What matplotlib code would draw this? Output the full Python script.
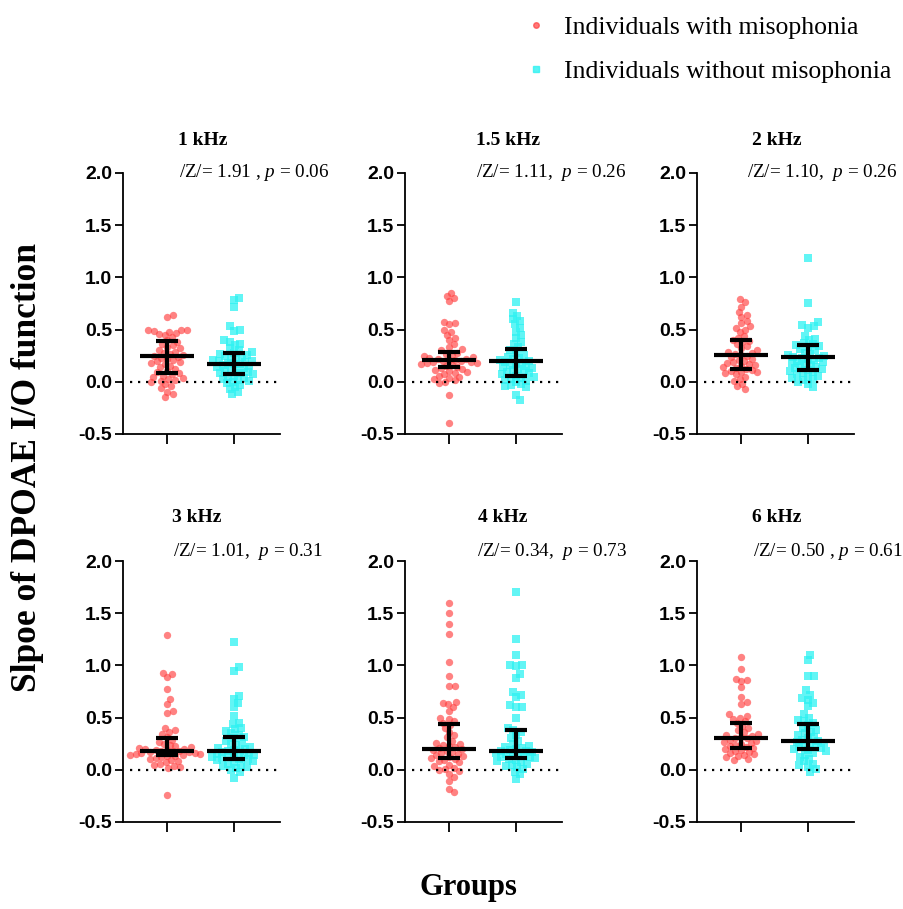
import numpy as np
import matplotlib
matplotlib.use('Agg')
import matplotlib.pyplot as plt
from matplotlib.lines import Line2D

plt.rcParams['mathtext.fontset'] = 'custom'
plt.rcParams['mathtext.rm'] = 'Liberation Serif'
plt.rcParams['mathtext.it'] = 'Liberation Serif:italic'

# ---- data ----
freqs = ['1 kHz', '1.5 kHz', '2 kHz', '3 kHz', '4 kHz', '6 kHz']
stats = ['/Z/= 1.91 , $p$ = 0.06', '/Z/= 1.11,  $p$ = 0.26', '/Z/= 1.10,  $p$ = 0.26',
         '/Z/= 1.01,  $p$ = 0.31', '/Z/= 0.34,  $p$ = 0.73', '/Z/= 0.50 , $p$ = 0.61']
groups = ['Individuals with misophonia', 'Individuals without misophonia']

miso_1k = [0.64, 0.62, 0.50, 0.50, 0.50, 0.49, 0.48, 0.47, 0.46, 0.45, 0.43, 0.40, 0.38, 0.36,
           0.35, 0.33, 0.32, 0.30, 0.29, 0.28, 0.27, 0.26, 0.25, 0.24, 0.23, 0.22, 0.21, 0.20,
           0.19, 0.18, 0.17, 0.15, 0.14, 0.12, 0.10, 0.09, 0.08, 0.07, 0.06, 0.05, 0.04, 0.03,
           0.02, 0.01, 0.00, -0.02, -0.04, -0.06, -0.10, -0.12, -0.15]
ctrl_1k = [0.80, 0.78, 0.72, 0.53, 0.50, 0.49, 0.40, 0.38, 0.36, 0.35, 0.32, 0.30, 0.29, 0.28,
           0.27, 0.26, 0.25, 0.24, 0.23, 0.22, 0.21, 0.20, 0.20, 0.19, 0.18, 0.17, 0.17, 0.16,
           0.15, 0.14, 0.13, 0.12, 0.11, 0.10, 0.09, 0.08, 0.08, 0.07, 0.06, 0.05, 0.04, 0.03,
           0.02, 0.01, 0.00, -0.01, -0.03, -0.05, -0.07, -0.10, -0.12]
miso_15k = [0.85, 0.82, 0.80, 0.77, 0.57, 0.56, 0.55, 0.50, 0.48, 0.45, 0.42, 0.40, 0.36, 0.33,
            0.31, 0.30, 0.28, 0.27, 0.26, 0.25, 0.24, 0.23, 0.22, 0.22, 0.21, 0.21, 0.20, 0.20,
            0.19, 0.19, 0.18, 0.18, 0.17, 0.16, 0.15, 0.14, 0.13, 0.12, 0.11, 0.10, 0.09, 0.08,
            0.07, 0.06, 0.05, 0.04, 0.03, 0.02, 0.00, -0.01, -0.13, -0.39]
ctrl_15k = [0.76, 0.66, 0.63, 0.60, 0.58, 0.55, 0.52, 0.48, 0.45, 0.42, 0.38, 0.36, 0.33, 0.30,
            0.28, 0.26, 0.24, 0.23, 0.22, 0.21, 0.20, 0.19, 0.18, 0.17, 0.16, 0.15, 0.14, 0.13,
            0.12, 0.11, 0.10, 0.09, 0.08, 0.07, 0.06, 0.05, 0.04, 0.03, 0.02, 0.01, 0.00, -0.02,
            -0.03, -0.04, -0.05, -0.13, -0.17]
miso_2k = [0.79, 0.76, 0.72, 0.67, 0.64, 0.62, 0.58, 0.56, 0.53, 0.52, 0.50, 0.48, 0.44, 0.42,
           0.40, 0.39, 0.38, 0.36, 0.34, 0.32, 0.30, 0.29, 0.28, 0.27, 0.26, 0.25, 0.24, 0.22,
           0.21, 0.20, 0.19, 0.18, 0.17, 0.16, 0.15, 0.14, 0.13, 0.12, 0.11, 0.10, 0.09, 0.09,
           0.08, 0.07, 0.05, 0.03, 0.01, -0.02, -0.04, -0.07]
ctrl_2k = [1.19, 0.75, 0.57, 0.54, 0.53, 0.52, 0.44, 0.41, 0.40, 0.37, 0.36, 0.35, 0.34, 0.33,
           0.31, 0.30, 0.28, 0.27, 0.26, 0.25, 0.24, 0.23, 0.23, 0.22, 0.21, 0.20, 0.19, 0.18,
           0.17, 0.16, 0.15, 0.14, 0.13, 0.12, 0.11, 0.10, 0.09, 0.08, 0.07, 0.06, 0.05, 0.04,
           0.03, 0.02, 0.00, -0.02, -0.05]
miso_3k = [1.29, 0.93, 0.92, 0.89, 0.77, 0.68, 0.63, 0.56, 0.54, 0.40, 0.38, 0.36, 0.34, 0.31,
           0.29, 0.27, 0.25, 0.24, 0.23, 0.22, 0.21, 0.20, 0.20, 0.19, 0.19, 0.18, 0.18, 0.18,
           0.17, 0.17, 0.16, 0.16, 0.15, 0.15, 0.14, 0.14, 0.13, 0.13, 0.12, 0.11, 0.10, 0.09,
           0.08, 0.07, 0.06, 0.05, 0.04, 0.03, 0.02, -0.24]
ctrl_3k = [1.22, 0.98, 0.95, 0.71, 0.68, 0.64, 0.60, 0.52, 0.45, 0.44, 0.40, 0.39, 0.37, 0.35,
           0.33, 0.31, 0.30, 0.28, 0.26, 0.25, 0.24, 0.22, 0.21, 0.20, 0.19, 0.18, 0.18, 0.17,
           0.16, 0.15, 0.14, 0.14, 0.13, 0.12, 0.12, 0.11, 0.10, 0.10, 0.09, 0.08, 0.07, 0.06,
           0.05, 0.04, 0.03, 0.02, 0.00, -0.02, -0.08]
miso_4k = [1.60, 1.50, 1.40, 1.30, 1.03, 0.90, 0.80, 0.80, 0.65, 0.64, 0.63, 0.60, 0.56, 0.50,
           0.49, 0.47, 0.45, 0.43, 0.40, 0.36, 0.33, 0.31, 0.28, 0.26, 0.25, 0.24, 0.23, 0.22,
           0.21, 0.20, 0.19, 0.18, 0.17, 0.16, 0.15, 0.14, 0.13, 0.12, 0.11, 0.10, 0.09, 0.08,
           0.07, 0.05, 0.04, 0.02, 0.01, 0.00, -0.01, -0.04, -0.07, -0.11, -0.18, -0.21]
ctrl_4k = [1.70, 1.25, 1.10, 1.00, 1.00, 0.99, 0.92, 0.88, 0.75, 0.72, 0.70, 0.62, 0.60, 0.60,
           0.50, 0.40, 0.38, 0.36, 0.33, 0.30, 0.28, 0.25, 0.23, 0.22, 0.21, 0.20, 0.19, 0.18,
           0.18, 0.17, 0.16, 0.15, 0.15, 0.14, 0.13, 0.12, 0.12, 0.11, 0.10, 0.09, 0.08, 0.07,
           0.06, 0.05, 0.04, 0.03, 0.01, -0.02, -0.04, -0.09]
miso_6k = [1.08, 0.97, 0.87, 0.86, 0.85, 0.79, 0.70, 0.65, 0.63, 0.53, 0.52, 0.50, 0.49, 0.47,
           0.45, 0.42, 0.40, 0.38, 0.36, 0.34, 0.33, 0.32, 0.31, 0.30, 0.30, 0.29, 0.28, 0.27,
           0.26, 0.25, 0.24, 0.23, 0.22, 0.21, 0.20, 0.19, 0.18, 0.17, 0.16, 0.15, 0.14, 0.13,
           0.12, 0.10, 0.09]
ctrl_6k = [1.10, 1.05, 0.90, 0.90, 0.76, 0.72, 0.69, 0.67, 0.64, 0.61, 0.53, 0.50, 0.48, 0.47,
           0.45, 0.43, 0.40, 0.38, 0.36, 0.35, 0.33, 0.31, 0.30, 0.29, 0.28, 0.27, 0.26, 0.25,
           0.24, 0.23, 0.22, 0.21, 0.20, 0.19, 0.18, 0.16, 0.14, 0.12, 0.10, 0.08, 0.06, 0.05,
           0.03, 0.01, -0.02]

miso = [miso_1k, miso_15k, miso_2k, miso_3k, miso_4k, miso_6k]
ctrl = [ctrl_1k, ctrl_15k, ctrl_2k, ctrl_3k, ctrl_4k, ctrl_6k]

# median and interquartile range per panel, as drawn
miso_med = [0.25, 0.21, 0.26, 0.18, 0.20, 0.30]
miso_q1 = [0.08, 0.14, 0.12, 0.145, 0.11, 0.21]
miso_q3 = [0.39, 0.29, 0.405, 0.30, 0.44, 0.45]
ctrl_med = [0.17, 0.20, 0.235, 0.18, 0.18, 0.28]
ctrl_q1 = [0.075, 0.06, 0.11, 0.105, 0.11, 0.20]
ctrl_q3 = [0.275, 0.31, 0.35, 0.315, 0.38, 0.44]

# ---- layout ----
W, H = 904, 909
lefts = [123, 405, 697]
tops = [173, 561]
ax_w, ax_h = 157, 261
title_x = [0.51, 0.656, 0.51, 0.47, 0.62, 0.51]
stat_x = [0.357, 0.452, 0.318, 0.318, 0.459, 0.357]

red = '#FF4040'
cyan = '#2EF2F2'
serif = 'Liberation Serif'
sans = 'Liberation Sans'


def swarm(ax, values, center, d=5.8):
    # simple beeswarm in pixel space
    tr = ax.transData
    ys = np.array([tr.transform((0, v))[1] for v in values])
    order = np.argsort(np.abs(ys - np.median(ys)))
    placed = []
    xs = np.zeros(len(values))
    for i in order:
        y = ys[i]
        cands = [0.0]
        for (px, py) in placed:
            dy = y - py
            if abs(dy) < d:
                dx = np.sqrt(d * d - dy * dy)
                cands += [px + dx, px - dx]
        cands = sorted(cands, key=abs)
        for c in cands:
            ok = True
            for (px, py) in placed:
                if (c - px) ** 2 + (y - py) ** 2 < d * d - 1e-6:
                    ok = False
                    break
            if ok:
                xs[i] = c
                placed.append((c, y))
                break
    x0 = tr.transform((center, 0))[0]
    data_x = [tr.inverted().transform((x0 + dx, 0))[0] for dx in xs]
    return np.array(data_x)


fig = plt.figure(figsize=(W / 100, H / 100), dpi=100)

for k in range(6):
    r, c = divmod(k, 3)
    ax = fig.add_axes([lefts[c] / W, 1 - (tops[r] + ax_h) / H, ax_w / W, ax_h / H])
    ax.set_xlim(-0.66, 1.69)
    ax.set_ylim(-0.5, 2.0)
    for s in ['top', 'right']:
        ax.spines[s].set_visible(False)
    for s in ['left', 'bottom']:
        ax.spines[s].set_linewidth(1.3)

    xm = swarm(ax, miso[k], 0)
    xc = swarm(ax, ctrl[k], 1)
    ax.scatter(xm, miso[k], s=28, marker='o', color=red, alpha=0.65, linewidths=0, zorder=2)
    ax.scatter(xc, ctrl[k], s=28, marker='s', color=cyan, alpha=0.75, linewidths=0, zorder=2)

    ax.plot([-0.56, 1.64], [0, 0], ls=(0, (1, 2.6)), color='black', lw=1.6, zorder=3)

    for pos, med, q1, q3 in [(0, miso_med[k], miso_q1[k], miso_q3[k]),
                             (1, ctrl_med[k], ctrl_q1[k], ctrl_q3[k])]:
        ax.plot([pos - 0.41, pos + 0.41], [med, med], color='black', lw=3, zorder=4,
                solid_capstyle='butt')
        ax.plot([pos - 0.17, pos + 0.17], [q1, q1], color='black', lw=3, zorder=4,
                solid_capstyle='butt')
        ax.plot([pos - 0.17, pos + 0.17], [q3, q3], color='black', lw=3, zorder=4,
                solid_capstyle='butt')
        ax.plot([pos, pos], [q1, q3], color='black', lw=3, zorder=4, solid_capstyle='butt')

    ax.set_yticks([-0.5, 0.0, 0.5, 1.0, 1.5, 2.0])
    ax.set_yticklabels(['-0.5', '0.0', '0.5', '1.0', '1.5', '2.0'])
    ax.set_xticks([0, 1])
    ax.set_xticklabels(['', ''])
    ax.tick_params(axis='y', length=6, width=1.3, pad=2, labelsize=14)
    ax.tick_params(axis='x', length=7, width=1.3)
    for lab in ax.get_yticklabels():
        lab.set_fontfamily(sans)
        lab.set_fontweight('bold')

    title_dy = 32 if r == 0 else 44
    stat_dy = 0 if r == 0 else 9
    ax.text(title_x[k], 1 + title_dy / ax_h, freqs[k], transform=ax.transAxes, ha='center',
            va='center', fontsize=14, fontweight='bold', fontfamily=serif)
    ax.text(stat_x[k], 1 + stat_dy / ax_h, stats[k], transform=ax.transAxes, ha='left',
            va='center', fontsize=13.8, fontfamily=serif)

fig.text(28 / W, 1 - 468 / H, 'Slpoe of DPOAE I/O function', rotation=90, ha='center',
         va='center', fontsize=25.5, fontweight='bold', fontfamily=serif)
fig.text(468 / W, 1 - 888 / H, 'Groups', ha='center', va='center', fontsize=22,
         fontweight='bold', fontfamily=serif)

handles = [Line2D([], [], ls='none', marker='o', ms=4, color=red, alpha=0.7),
           Line2D([], [], ls='none', marker='s', ms=4, color=cyan, alpha=0.8)]
fig.legend(handles, groups, loc='upper left', bbox_to_anchor=(523 / W, 1 - 16 / H),
           frameon=False, borderpad=0, borderaxespad=0, handlelength=1.0,
           handletextpad=0.58, labelspacing=0.82, prop={'family': serif, 'size': 18.5})

fig.savefig('out.png', dpi=100)
